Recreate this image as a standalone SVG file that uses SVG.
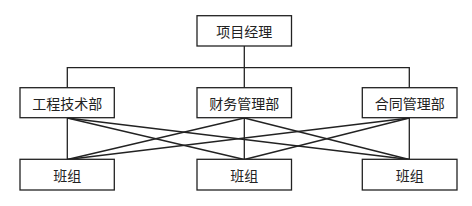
<svg xmlns="http://www.w3.org/2000/svg" width="472" height="206" viewBox="0 0 472 206">
<style>
rect{fill:#fff;stroke:#222;stroke-width:1.3}
text{font-family:"Noto Sans CJK SC","Liberation Serif",serif;font-size:14px;fill:#222;text-anchor:middle;dominant-baseline:central}
.c line, .c polyline{stroke:#222;stroke-width:1.3;fill:none}
</style>
<rect width="472" height="206" style="fill:#fff;stroke:none"/>
<g class="c" id="connectors">
<line x1="244.3" y1="46" x2="244.3" y2="88"/>
<polyline points="67.3,88 67.3,67.7 409.3,67.7 409.3,88"/>
<line x1="67.3" y1="118" x2="67.3" y2="159.5"/>
<line x1="67.3" y1="118" x2="244.3" y2="159.5"/>
<line x1="67.3" y1="118" x2="409.3" y2="159.5"/>
<line x1="244.3" y1="118" x2="67.3" y2="159.5"/>
<line x1="244.3" y1="118" x2="244.3" y2="159.5"/>
<line x1="244.3" y1="118" x2="409.3" y2="159.5"/>
<line x1="409.3" y1="118" x2="67.3" y2="159.5"/>
<line x1="409.3" y1="118" x2="244.3" y2="159.5"/>
<line x1="409.3" y1="118" x2="409.3" y2="159.5"/>
</g>
<g id="pm"><rect x="197" y="15.7" width="94.5" height="30.3"/><text x="244.3" y="31">项目经理</text></g>
<g id="eng"><rect x="20" y="87.7" width="94.3" height="30"/><text x="67.2" y="102.7">工程技术部</text></g>
<g id="fin"><rect x="197" y="87.7" width="94.5" height="30"/><text x="244.3" y="102.7">财务管理部</text></g>
<g id="con"><rect x="362.3" y="87.7" width="94.7" height="30"/><text x="409.7" y="102.7">合同管理部</text></g>
<g id="t1"><rect x="20" y="159.3" width="94.3" height="30.7"/><text x="67.2" y="174.7">班组</text></g>
<g id="t2"><rect x="197" y="159.3" width="94.5" height="30.7"/><text x="244.3" y="174.7">班组</text></g>
<g id="t3"><rect x="362.3" y="159.3" width="94.7" height="30.7"/><text x="409.7" y="174.7">班组</text></g>
</svg>
